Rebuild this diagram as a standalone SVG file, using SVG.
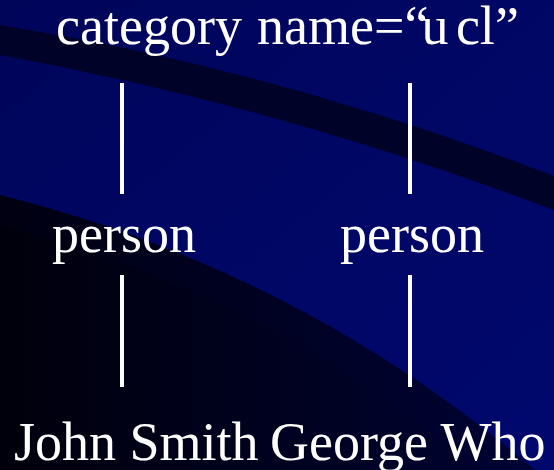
<svg xmlns="http://www.w3.org/2000/svg" width="554" height="470" viewBox="0 0 554 470">
<style>
.t{font-family:"Liberation Serif","Times New Roman",serif;font-size:54px;fill:#ffffff}
.c{stroke:#ffffff;stroke-width:4;fill:none}
</style>
<defs>
<linearGradient id="bg" x1="0" y1="0" x2="1" y2="1">
<stop offset="0" stop-color="#00055a"/>
<stop offset="1" stop-color="#00086e"/>
</linearGradient>
<linearGradient id="low" x1="0" y1="0" x2="1" y2="0">
<stop offset="0" stop-color="#000012"/>
<stop offset="1" stop-color="#000334"/>
</linearGradient>
<linearGradient id="low2" x1="0" y1="0" x2="1" y2="0">
<stop offset="0" stop-color="#000008"/>
<stop offset="1" stop-color="#00022c"/>
</linearGradient>
</defs>
<g id="background">
<rect x="0" y="0" width="554" height="470" fill="url(#bg)"/>
<path d="M0,25 Q280,70 554,176 L554,210 Q280,106 0,55 Z" fill="#000228"/>
<path d="M0,195 Q300,270 535,470 L0,470 Z" fill="url(#low)"/>
<path d="M0,225 Q280,300 480,470 L0,470 Z" fill="url(#low2)" opacity="0.6"/>
</g>
<g id="connectors">
<line class="c" x1="122" y1="83" x2="122" y2="194"/>
<line class="c" x1="410" y1="83" x2="410" y2="194"/>
<line class="c" x1="122" y1="275" x2="122" y2="387"/>
<line class="c" x1="410" y1="275" x2="410" y2="387"/>
</g>
<g id="category">
<text class="t" y="44"><tspan x="56">category</tspan><tspan x="257" dx="0 0 0 0 0 0 -7 0 -6 0 0">name=“u cl”</tspan></text>
</g>
<g id="person1"><text class="t" x="52" y="252">person</text></g>
<g id="person2"><text class="t" x="340" y="252">person</text></g>
<g id="john"><text class="t" x="14" y="460">John Smith</text></g>
<g id="george"><text class="t" x="270" y="460">George Who</text></g>
</svg>
